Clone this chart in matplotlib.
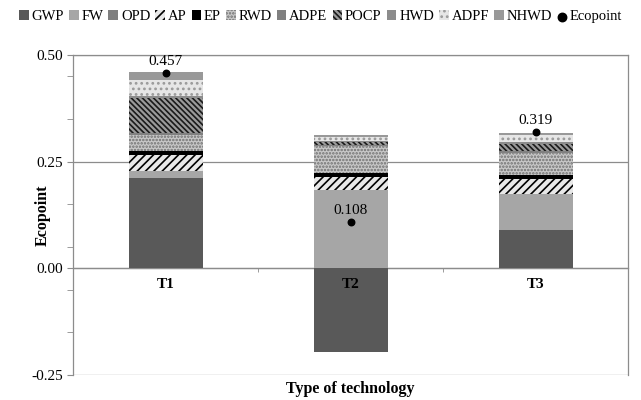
import matplotlib
matplotlib.use('Agg')
import matplotlib.pyplot as plt
import matplotlib.ticker as mticker
import numpy as np

plt.rcParams['font.family'] = ['Liberation Serif', 'DejaVu Serif']
plt.rcParams['hatch.linewidth'] = 1.2

technologies = ['T1', 'T2', 'T3']
categories = ['GWP', 'FW', 'OPD', 'AP', 'EP', 'RWD', 'ADPE', 'POCP', 'HWD', 'ADPF', 'NHWD']

# impact category contributions (Ecopoint) per technology
gwp = [0.2125, -0.197, 0.090]
fw = [0.015, 0.183, 0.084]
opd = [0.001, 0.001, 0.001]
ap = [0.036, 0.031, 0.034]
ep = [0.011, 0.008, 0.009]
rwd = [0.036, 0.064, 0.053]
adpe = [0.0055, 0.002, 0.005]
pocp = [0.082, 0.008, 0.015]
hwd = [0.006, 0.002, 0.005]
adpf = [0.037, 0.008, 0.016]
nhwd = [0.018, 0.005, 0.0055]
ecopoint = [0.457, 0.108, 0.319]

series = [gwp, fw, opd, ap, ep, rwd, adpe, pocp, hwd, adpf, nhwd]

# face colour, hatch, hatch colour
styles = {
    'GWP': ('#595959', None, '#595959'),
    'FW': ('#a6a6a6', None, '#a6a6a6'),
    'OPD': ('#7f7f7f', None, '#7f7f7f'),
    'AP': ('#e8e8e8', '////', '#000000'),
    'EP': ('#000000', None, '#000000'),
    'RWD': ('#c8c8c8', '.....', '#707070'),
    'ADPE': ('#808080', None, '#808080'),
    'POCP': ('#9a9a9a', '\\\\\\\\\\\\', '#1a1a1a'),
    'HWD': ('#8c8c8c', None, '#8c8c8c'),
    'ADPF': ('#e6e6e6', '...', '#9a9a9a'),
    'NHWD': ('#999999', None, '#999999'),
}

fig = plt.figure(figsize=(6.41, 4.0), dpi=100)
ax = fig.add_axes([0.114, 0.0625, 0.866, 0.8])

x = np.arange(len(technologies))
width = 0.4
pos_base = np.zeros(len(technologies))
neg_base = np.zeros(len(technologies))
handles = []
for name, vals in zip(categories, series):
    vals = np.array(vals)
    base = np.where(vals >= 0, pos_base, neg_base)
    fc, hatch, hc = styles[name]
    b = ax.bar(x, vals, width, bottom=base, color=fc, hatch=hatch,
               edgecolor=hc, linewidth=0, zorder=3, label=name)
    handles.append(b)
    pos_base = pos_base + np.where(vals >= 0, vals, 0)
    neg_base = neg_base + np.where(vals < 0, vals, 0)

eco = ax.scatter(x, ecopoint, s=22, color='black', zorder=5, label='Ecopoint')
for xi, v in zip(x, ecopoint):
    ax.annotate('%.3f' % v, (xi, v), xytext=(0, 4), textcoords='offset points',
                ha='center', va='bottom', fontsize=11, zorder=6)

ax.set_xlim(-0.5, 2.5)
ax.set_ylim(-0.25, 0.5)
ax.yaxis.set_major_locator(mticker.MultipleLocator(0.25))
ax.yaxis.set_minor_locator(mticker.FixedLocator([-0.15, -0.05, 0.05, 0.15, 0.35, 0.45]))
ax.yaxis.set_major_formatter(mticker.FormatStrFormatter('%.2f'))
ax.tick_params(axis='y', which='both', direction='out', length=4, color='#8c8c8c',
               labelsize=11, pad=3)
ax.grid(axis='y', which='major', color='#8c8c8c', lw=0.9, zorder=1)

# category axis crosses at zero
ax.spines['bottom'].set_position(('data', 0))
ax.set_xticks(x)
ax.set_xticklabels([])
ax.set_xticks([0.5, 1.5], minor=True)
ax.tick_params(axis='x', which='major', length=0)
ax.tick_params(axis='x', which='minor', length=3, color='#8c8c8c', direction='out')
for xi, t in zip(x, technologies):
    ax.annotate(t, (xi, 0), xytext=(0, -7), textcoords='offset points',
                ha='center', va='top', fontsize=11, fontweight='bold', zorder=10)
for s in ax.spines.values():
    s.set_color('#8c8c8c')
    s.set_linewidth(0.9)

ax.set_xlabel('Type of technology', fontweight='bold', fontsize=11.5)
ax.xaxis.set_label_coords(0.5, -0.018)
ax.xaxis.label.set_va('top')
ax.set_ylabel('Ecopoint', fontweight='bold', fontsize=11.5)
ax.yaxis.set_label_coords(-0.04, 0.5)

fig.legend(handles + [eco], categories + ['Ecopoint'], loc='upper center',
           bbox_to_anchor=(0.5, 1.0), ncol=12, frameon=False, fontsize=10.5,
           handlelength=0.65, handleheight=0.65, handletextpad=0.2,
           columnspacing=0.35, borderaxespad=0.3, markerscale=1.3)

fig.savefig('out.png', dpi=100)
